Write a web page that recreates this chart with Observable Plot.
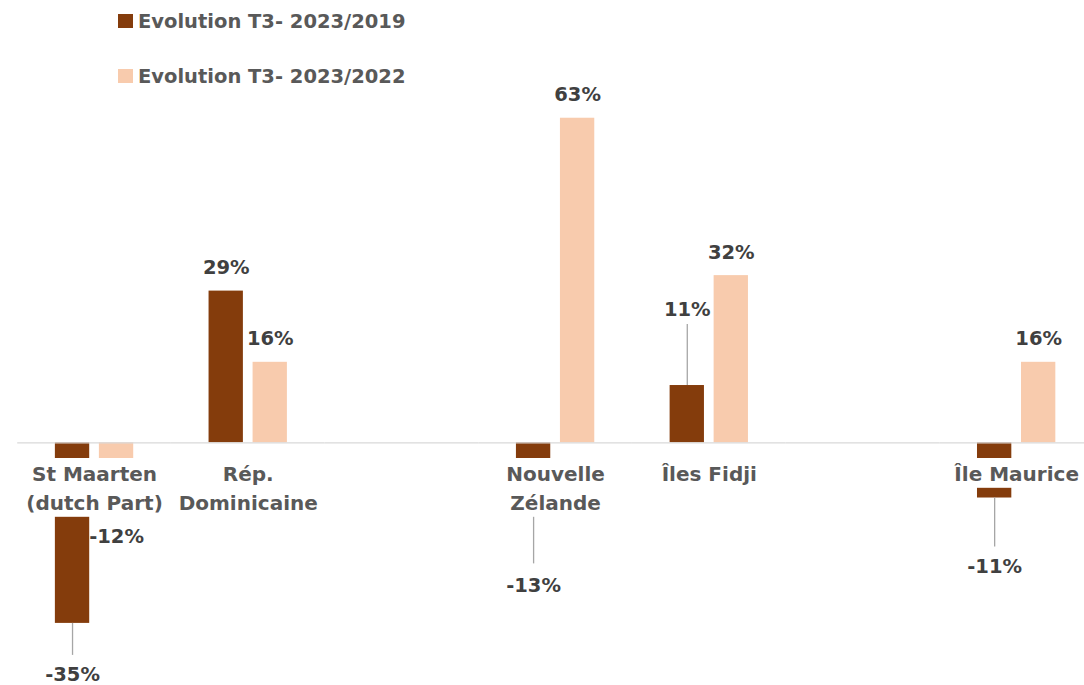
<!DOCTYPE html>
<html>
<head>
<meta charset="utf-8">
<script src="https://cdn.jsdelivr.net/npm/d3@7"></script>
<script src="https://cdn.jsdelivr.net/npm/@observablehq/plot@0.6"></script>
<style>
  html, body { margin: 0; padding: 0; background: #fff; overflow: hidden; }
  #wrap { position: relative; width: 1084px; height: 685px; }
  #legend { position: absolute; left: 0; top: 0; z-index: 2;
            font-family: "DejaVu Sans", sans-serif; font-weight: bold; font-size: 19.5px; color: #595959; }
  .sw { position: absolute; left: 118px; width: 15px; height: 14px; }
  .lt { position: absolute; left: 138px; line-height: 19px; white-space: nowrap; }
</style>
</head>
<body>
<div id="wrap">
  <div id="chart"></div>
  <div id="legend"></div>
</div>
<script>
// ---------- data ----------
const categories = ["St Maarten\n(dutch Part)", "Rép.\nDominicaine", "", "Nouvelle\nZélande", "Îles Fidji", " ", "Île Maurice"];
const seriesNames = ["Evolution T3- 2023/2019", "Evolution T3- 2023/2022"];
const evol2019 = [-0.35, 0.294, null, -0.13, 0.111, null, -0.107];
const evol2022 = [-0.12, 0.156, null, 0.629, 0.324, null, 0.156];
const seriesColors = ["#843C0C", "#F8CBAD"];

// ---------- layout / style ----------
const W = 1084, H = 685, MT = 81.1, MB = 36.3, ML = 17.2, MR = -9;
const Y0 = -0.40, Y1 = 0.70;
const pxPerUnit = (H - MT - MB) / (Y1 - Y0);
// custom label placement (px below bar end; negative = above), leader length in px
const placement = {
  "0|0": {off: 58, lead: 32},
  "0|1": {off: 38},
  "3|0": {off: 82, lead: 54},
  "4|0": {off: -70, lead: -61},
  "6|0": {off: 74.5, lead: 49}
};
const FONT = "DejaVu Sans, sans-serif";
const fmt = d3.formatLocale({decimal: ".", thousands: ",", grouping: [3], currency: ["", ""], minus: "-", percent: "%"}).format(".0%");

const rows = [];
categories.forEach((c, i) => {
  [evol2019, evol2022].forEach((arr, j) => {
    if (arr[i] != null) rows.push({cat: c, series: seriesNames[j], value: arr[i], key: i + "|" + j});
  });
});
const labelY = d => {
  const p = placement[d.key];
  return d.value - (p ? p.off : -17) / pxPerUnit;
};
const leaders = rows.filter(d => placement[d.key] && placement[d.key].lead);
const namedCats = categories.filter(c => c.trim() !== "");
// white label boxes of the category axis (px below the zero line)
const boxTop = 15.7, boxLine1 = 45.5, boxLine2 = 74.5;

const chart = Plot.plot({
  width: W, height: H,
  marginTop: MT, marginBottom: MB, marginLeft: ML, marginRight: MR,
  style: {background: "white"},
  fx: {domain: categories, padding: 0, axis: null, round: false},
  x: {domain: seriesNames, paddingInner: 0.22, paddingOuter: 0.856, axis: null, round: false},
  y: {domain: [Y0, Y1], axis: null},
  color: {domain: seriesNames, range: seriesColors},
  marks: [
    Plot.barY(rows, {fx: "cat", x: "series", y: "value", fill: "series"}),
    Plot.ruleY(categories, {fx: d => d, y: () => 0, stroke: "#d9d9d9", strokeWidth: 1.3}),
    Plot.ruleX(leaders, {fx: "cat", x: "series", y1: "value",
      y2: d => d.value - placement[d.key].lead / pxPerUnit, stroke: "#a6a6a6", strokeWidth: 1.3}),
    Plot.rectY(namedCats, {fx: d => d, y1: () => -boxTop / pxPerUnit,
      y2: d => -(d.includes("\n") ? boxLine2 : boxLine1) / pxPerUnit, fill: "white"}),
    Plot.text(namedCats, {
      fx: d => d, y: () => 0, text: d => d, dy: 18, lineAnchor: "top", lineHeight: 1.45,
      fontFamily: FONT, fontWeight: "bold", fontSize: 20, fill: "#595959"
    }),
    Plot.text(rows, {
      fx: "cat", x: "series", y: labelY, text: d => fmt(d.value),
      lineAnchor: "bottom", fontFamily: FONT, fontWeight: "bold", fontSize: 19.5, fill: "#404040"
    })
  ]
});
document.getElementById("chart").appendChild(chart);

// legend
const legend = document.getElementById("legend");
const legendTops = [14, 69];
seriesNames.forEach((name, i) => {
  const sw = document.createElement("div");
  sw.className = "sw";
  sw.style.top = legendTops[i] + "px";
  sw.style.background = seriesColors[i];
  legend.appendChild(sw);
  const t = document.createElement("div");
  t.className = "lt";
  t.style.top = (legendTops[i] - 2) + "px";
  t.textContent = name;
  legend.appendChild(t);
});
</script>
</body>
</html>
